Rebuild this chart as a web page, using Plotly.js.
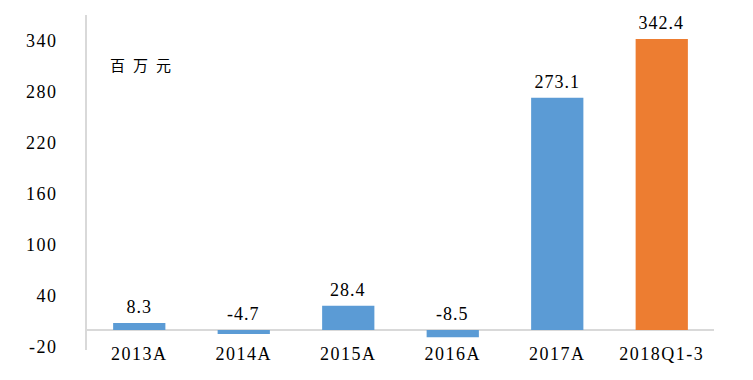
<!DOCTYPE html>
<html><head><meta charset="utf-8">
<script src="https://cdn.plot.ly/plotly-3.0.1.min.js"></script>
<style>
html,body{margin:0;padding:0;background:#fff}
#chart .xtick text, #chart .ytick text{letter-spacing:1.5px}
#chart .annotation-text{letter-spacing:1px}
#chart .unitlbl .annotation-text{letter-spacing:8px}
</style>
</head><body>
<div id="chart" style="width:753px;height:380px"></div>
<script>
const categories = ["2013A","2014A","2015A","2016A","2017A","2018Q1-3"];
const values = [8.3, -4.7, 28.4, -8.5, 273.1, 342.4];
const barColors = ["#5b9bd5","#5b9bd5","#5b9bd5","#5b9bd5","#5b9bd5","#ed7d31"];
const yTicks = [-20, 40, 100, 160, 220, 280, 340];
const unitLabel = "百万元";

const serif = 'Liberation Serif';

const annotations = categories.map((c, i) => ({
  x: c, y: Math.max(values[i], 0), xref: "x", yref: "y",
  text: values[i].toFixed(1), showarrow: false,
  yanchor: "bottom", yshift: 4,
  font: {family: serif, size: 18, color: "#000"}
}));
annotations.push({
  xref: "paper", yref: "paper", x: 0.053, y: 0.852,
  xanchor: "left", yanchor: "middle", showarrow: false,
  text: unitLabel,
  font: {family: "Noto Sans CJK SC", size: 15, color: "#000"}
});

Plotly.newPlot("chart", [{
  type: "bar", x: categories, y: values,
  marker: {color: barColors}, width: 0.5,
  hoverinfo: "skip"
}], {
  width: 753, height: 380,
  margin: {l: 87, r: 39, t: 15, b: 30},
  paper_bgcolor: "#fff", plot_bgcolor: "#fff",
  showlegend: false,
  xaxis: {
    showgrid: false, showline: false, zeroline: false,
    ticks: "", tickfont: {family: serif, size: 18, color: "#000"},
    ticklabelstandoff: -9
  },
  yaxis: {
    range: [-23.5, 370.5], tickvals: yTicks, ticktext: yTicks.map(String),
    showgrid: false, zeroline: true, zerolinecolor: "#d9d9d9", zerolinewidth: 1.5,
    showline: true, linecolor: "#d9d9d9", linewidth: 2,
    ticks: "", ticklabelstandoff: 24,
    tickfont: {family: serif, size: 18, color: "#000"}
  },
  annotations: annotations
}, {staticPlot: true}).then(gd => {
  const anns = gd.querySelectorAll(".annotation");
  anns[anns.length - 1].classList.add("unitlbl");
});
</script>
</body></html>
